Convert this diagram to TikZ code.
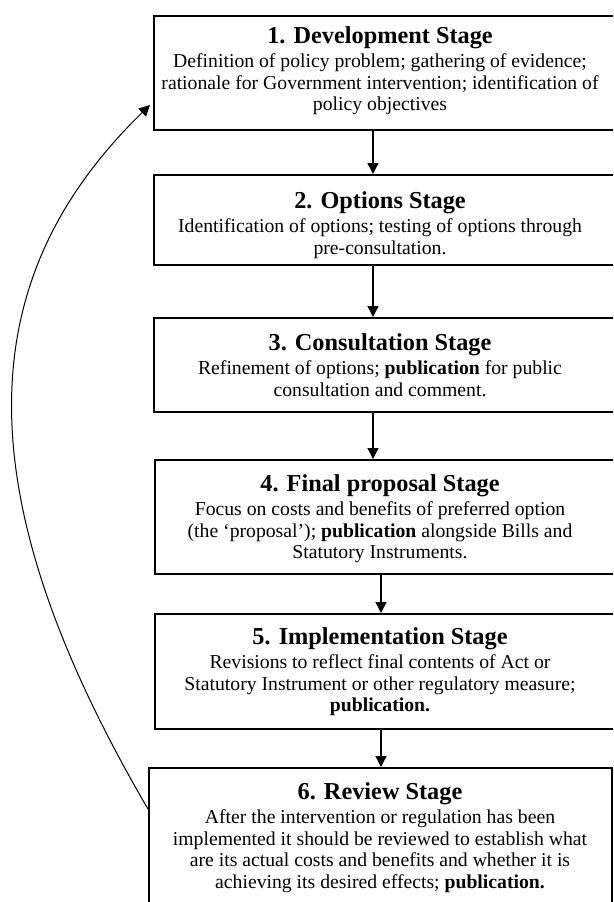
\documentclass[tikz,border=0pt]{standalone}
\usepackage{fontspec}
\setmainfont{Liberation Serif}
\usetikzlibrary{arrows.meta}

\newcommand{\stagetitle}[1]{{\fontsize{24.3}{24}\selectfont\bfseries #1}\\[3pt]}

\begin{document}
\begin{tikzpicture}[
  x=1pt, y=-1pt,
  box/.style={draw, line width=1.6pt, anchor=north west, minimum width=480pt, inner sep=0pt},
  txt/.style={anchor=north, align=center, inner sep=0pt, font=\fontsize{19.7}{21.5}\selectfont},
  arrow/.style={-{Triangle[length=11pt, width=11pt]}, line width=1.3pt}
]
\useasboundingbox (0,0) rectangle (613,902);
\clip (0,0) rectangle (613,902);

% Stage frames
\node[box, minimum height=114pt] (b1) at (153,15) {};
\node[box, minimum height=90pt] (b2) at (153,174) {};
\node[box, minimum height=94pt] (b3) at (153,317) {};
\node[box, minimum height=114pt] (b4) at (154,459) {};
\node[box, minimum height=115pt] (b5) at (154,613) {};
\node[box, minimum width=463pt, minimum height=160pt] (b6) at (148,767) {};

% Stage texts
\node[txt] (t1) at (380,26) {\stagetitle{1. Development Stage}
  Definition of policy problem; gathering of evidence;\\
  rationale for Government intervention; identification of\\
  policy objectives};
\node[txt] (t2) at (380,191) {\stagetitle{2. Options Stage}
  Identification of options; testing of options through\\
  pre-consultation.};
\node[txt] (t3) at (380,333) {\stagetitle{3. Consultation Stage}
  Refinement of options; \textbf{publication} for public\\
  consultation and comment.};
\node[txt] (t4) at (380,474) {\stagetitle{4. Final proposal Stage}
  Focus on costs and benefits of preferred option\\
  (the ‘proposal’); \textbf{publication} alongside Bills and\\
  Statutory Instruments.};
\node[txt] (t5) at (380,627) {\stagetitle{5. Implementation Stage}
  Revisions to reflect final contents of Act or\\
  Statutory Instrument or other regulatory measure;\\
  \textbf{publication.}};
\node[txt] (t6) at (380,782) {\stagetitle{6. Review Stage}
  After the intervention or regulation has been\\
  implemented it should be reviewed to establish what\\
  are its actual costs and benefits and whether it is\\
  achieving its desired effects; \textbf{publication.}};

% Flow
\coordinate (c1) at (373,0);
\coordinate (c2) at (381,0);
\draw[arrow] (b1.south -| c1) -- (b2.north -| c1);
\draw[arrow] (b2.south -| c1) -- (b3.north -| c1);
\draw[arrow] (b3.south -| c1) -- (b4.north -| c1);
\draw[arrow] (b4.south -| c2) -- (b5.north -| c2);
\draw[arrow] (b5.south -| c2) -- (b6.north -| c2);

% Feedback from review back to development
\draw[arrow, line width=1pt] ([yshift=-42pt]b6.north west) .. controls (-38,491) and (-28,278) .. ([xshift=-3pt, yshift=-90pt]b1.north west);
\end{tikzpicture}
\end{document}
